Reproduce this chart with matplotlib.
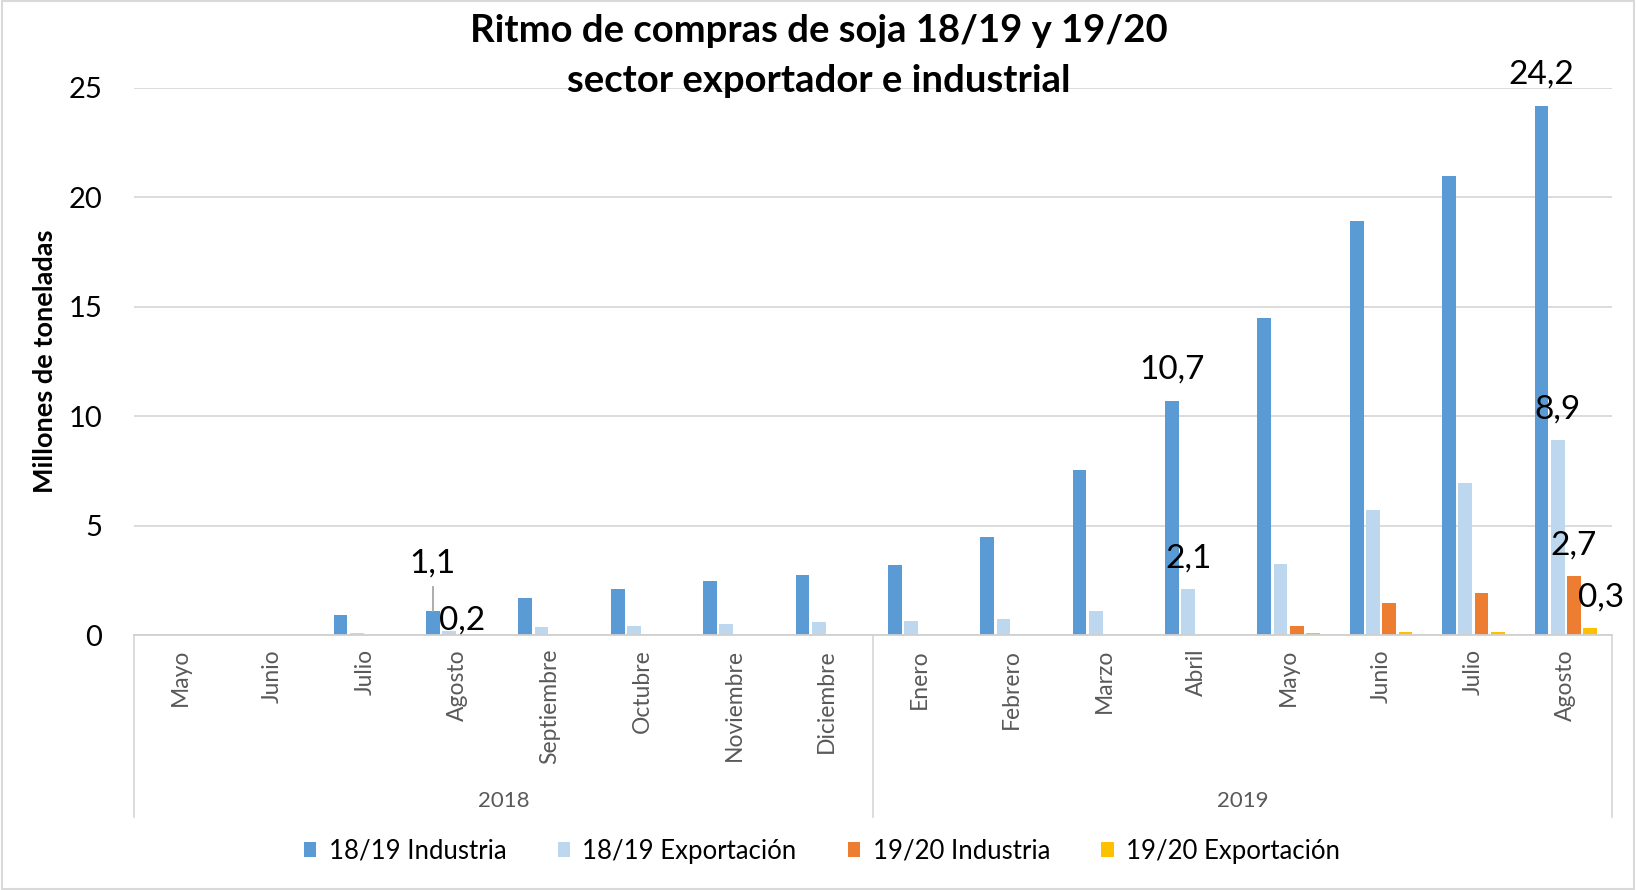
import matplotlib

matplotlib.use("Agg")
import matplotlib.pyplot as plt
import numpy as np
from matplotlib.patches import Patch, Rectangle
from matplotlib.transforms import blended_transform_factory

plt.rcParams["font.family"] = ["Lato", "DejaVu Sans"]

months = ["Mayo", "Junio", "Julio", "Agosto", "Septiembre", "Octubre", "Noviembre", "Diciembre",
          "Enero", "Febrero", "Marzo", "Abril", "Mayo", "Junio", "Julio", "Agosto"]
years = ["2018", "2019"]
months_per_year = [8, 8]

industria_1819 = [0, 0, 0.9, 1.1, 1.7, 2.1, 2.45, 2.75, 3.2, 4.5, 7.55, 10.7, 14.5, 18.9, 21.0, 24.2]
exportacion_1819 = [0, 0, 0.1, 0.2, 0.35, 0.4, 0.5, 0.6, 0.65, 0.72, 1.1, 2.1, 3.25, 5.7, 6.95, 8.9]
industria_1920 = [0, 0, 0, 0, 0, 0, 0, 0, 0, 0, 0, 0, 0.4, 1.45, 1.9, 2.7]
exportacion_1920 = [0, 0, 0, 0, 0, 0, 0, 0, 0, 0, 0, 0, 0.07, 0.13, 0.13, 0.3]

series = [
    ("18/19 Industria", industria_1819, "#5B9BD5"),
    ("18/19 Exportación", exportacion_1819, "#BDD7EE"),
    ("19/20 Industria", industria_1920, "#ED7D31"),
    ("19/20 Exportación", exportacion_1920, "#FFC000"),
]

# labelled bars: (series index, month index, text, baseline offset in pixels)
labels = [
    (0, 3, "1,1", (0, 38)),
    (1, 3, "0,2", (13, 1)),
    (0, 11, "10,7", (0, 22)),
    (1, 11, "2,1", (0, 22)),
    (0, 15, "24,2", (0, 22)),
    (1, 15, "8,9", (0, 22)),
    (2, 15, "2,7", (0, 21)),
    (3, 15, "0,3", (11, 22)),
]

figure = plt.figure(figsize=(16.36, 8.9), dpi=100)
axis = figure.add_axes([134 / 1636, 1 - 635 / 890, (1612 - 134) / 1636, (635 - 88) / 890])

x = np.arange(len(months))
width = 0.148
slot = 0.176
for index, (name, values, color) in enumerate(series):
    axis.bar(x + (index - 1.5) * slot, values, width=width, color=color, label=name, zorder=2)

for series_index, month_index, text, (dx, dy) in labels:
    bar_x = month_index + (series_index - 1.5) * slot
    bar_y = series[series_index][1][month_index]
    axis.annotate(text, (bar_x, bar_y), xytext=(dx, dy), textcoords="offset pixels",
                  ha="center", va="baseline", fontsize=24, color="black", annotation_clip=False,
                  zorder=4)

# leader line for the 1,1 label
agosto_x = 3 - 1.5 * slot
axis.plot([agosto_x, agosto_x], [1.1, 2.2], color="#a6a6a6", lw=1.3, zorder=3)

axis.set_xlim(-0.5, len(months) - 0.5)
axis.set_ylim(0, 25)
axis.set_yticks(range(0, 26, 5))
axis.tick_params(axis="y", length=0, labelsize=21, pad=23)
axis.yaxis.grid(True, color="#d9d9d9", linewidth=1.3, zorder=0)
axis.set_axisbelow(True)
for side in ("top", "right", "left"):
    axis.spines[side].set_visible(False)
axis.spines["bottom"].set_color("#d0d0d0")
axis.spines["bottom"].set_linewidth(1.3)

axis.set_xticks(x)
axis.set_xticklabels(months, rotation=90, fontsize=16.5, color="#595959", va="top")
axis.tick_params(axis="x", length=0, pad=10)

axis.set_ylabel("Millones de toneladas", fontsize=19.5, fontweight="bold")
axis.yaxis.set_label_coords(-(134 - 57) / 1478, 0.5)

# second level of the category axis
trans = blended_transform_factory(axis.transData, axis.transAxes)
boundaries = np.concatenate([[0], np.cumsum(months_per_year)]) - 0.5
for boundary in boundaries:
    axis.plot([boundary, boundary], [0, -0.3327], transform=trans, color="#d9d9d9",
              linewidth=1.3, clip_on=False)
for year, start, end in zip(years, boundaries[:-1], boundaries[1:]):
    axis.text((start + end) / 2, -0.3035, year, transform=trans, ha="center", va="center",
              fontsize=16, color="#595959")

figure.text(0.5006, 1 - 31 / 890, "Ritmo de compras de soja 18/19 y 19/20", ha="center", va="center",
            fontsize=27.5, fontweight="bold")
figure.text(0.5006, 1 - 81 / 890, "sector exportador e industrial", ha="center", va="center",
            fontsize=27.5, fontweight="bold")

handles = [Patch(facecolor=color, label=name) for name, _, color in series]
figure.legend(handles=handles, loc="center", bbox_to_anchor=(0.5025, 1 - 851 / 890), ncol=4,
              frameon=False, fontsize=18.5, handlelength=0.48, handleheight=0.48, handletextpad=0.48,
              columnspacing=2.0, borderpad=0)

figure.patches.append(Rectangle((0.001, 0.001), 0.998, 0.998, transform=figure.transFigure,
                                fill=False, edgecolor="#d9d9d9", linewidth=1.5))

figure.savefig("out.png", dpi=100)
plt.close(figure)
